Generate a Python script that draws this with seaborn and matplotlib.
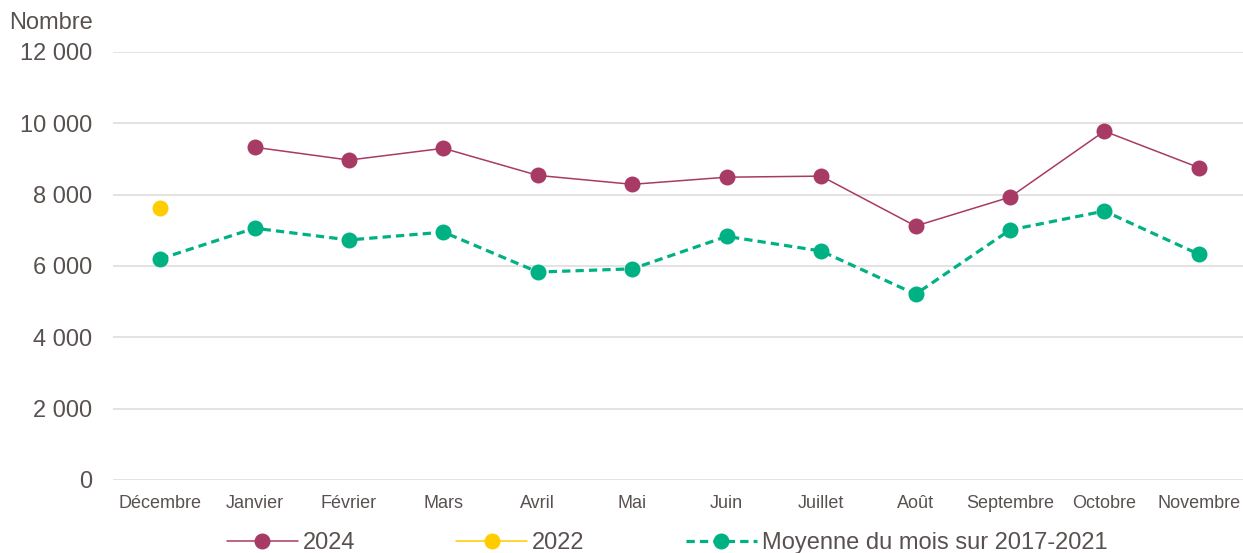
import numpy as np
import pandas as pd
import matplotlib
matplotlib.use("Agg")
import matplotlib.pyplot as plt
from matplotlib.ticker import FuncFormatter
import seaborn as sns

months = ["Décembre", "Janvier", "Février", "Mars", "Avril", "Mai", "Juin",
          "Juillet", "Août", "Septembre", "Octobre", "Novembre"]
serie_2024 = [np.nan, 9330, 8970, 9300, 8540, 8290, 8490, 8520, 7120, 7930, 9780, 8760]
serie_2022 = [7630, np.nan, np.nan, np.nan, np.nan, np.nan, np.nan, np.nan, np.nan, np.nan, np.nan, np.nan]
moyenne = [6200, 7060, 6730, 6950, 5830, 5920, 6830, 6420, 5210, 7010, 7540, 6330]
y_ticks = [0, 2000, 4000, 6000, 8000, 10000, 12000]

TEXT = "#595150"
GRID = "#e3dfdf"
C2024 = "#A83A66"
C2022 = "#FFCC00"
CMOY = "#00B183"

sns.set_theme(style="white")
plt.rcParams["font.family"] = ["Liberation Sans", "DejaVu Sans"]

df = pd.DataFrame({"pos": np.arange(len(months)), "m": months,
                   "2024": serie_2024, "2022": serie_2022, "moy": moyenne})

fig = plt.figure(figsize=(12.43, 5.53), dpi=100)
ax = fig.add_axes([113 / 1243, 1 - 480 / 553, 1133 / 1243, 428 / 553])

sns.lineplot(data=df, x="pos", y="2024", ax=ax, color=C2024, linewidth=1.1,
             marker="o", markersize=11.5, markeredgewidth=0, label="2024", sort=False)
sns.lineplot(data=df, x="pos", y="2022", ax=ax, color=C2022, linewidth=1.1,
             marker="o", markersize=11.5, markeredgewidth=0, label="2022", sort=False)
sns.lineplot(data=df, x="pos", y="moy", ax=ax, color=CMOY, linewidth=2.3,
             marker="o", markersize=11.5, markeredgewidth=0,
             label="Moyenne du mois sur 2017-2021", sort=False)
ax.lines[-1].set_dashes([2.6, 1.6])

ax.set_xlim(-0.5, len(months) - 0.5)
ax.set_ylim(0, 12000)
ax.set_yticks(y_ticks)
ax.yaxis.set_major_formatter(FuncFormatter(lambda v, p: f"{int(v):,}".replace(",", " ")))
ax.set_xticks(np.arange(len(months)))
ax.set_xticklabels(months)
ax.set_xlabel("")
ax.set_ylabel("")
ax.grid(axis="y", color=GRID, linewidth=1.3)
ax.set_axisbelow(True)
for s in ax.spines.values():
    s.set_visible(False)
ax.tick_params(axis="y", length=0, pad=15, labelsize=17, labelcolor=TEXT)
ax.tick_params(axis="x", length=0, pad=11, labelsize=13, labelcolor=TEXT)

fig.text(93 / 1243, 1 - 23 / 553, "Nombre", ha="right", va="center",
         fontsize=17, color=TEXT)

ax.get_legend().remove()
handles, labels = ax.get_legend_handles_labels()
leg = fig.legend(handles, labels, loc="center", bbox_to_anchor=(667 / 1243, 1 - 543 / 553),
                 ncol=3, frameon=False, fontsize=17, handlelength=3.0,
                 handletextpad=0.2, columnspacing=4.3, borderpad=0)
for t in leg.get_texts():
    t.set_color(TEXT)

fig.savefig("out.png", dpi=100)
